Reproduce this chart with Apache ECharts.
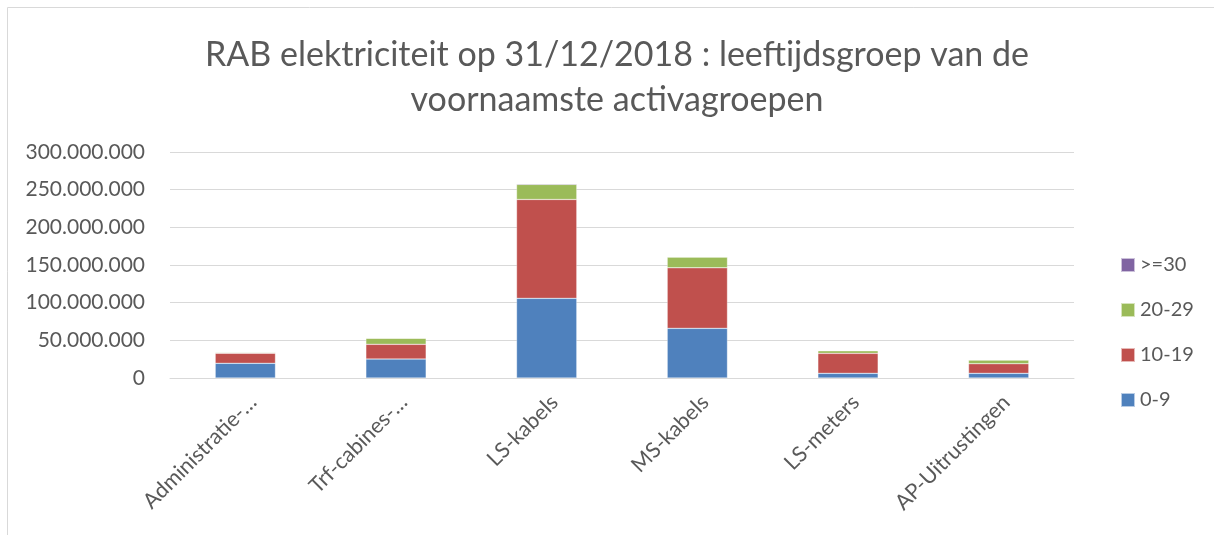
<!DOCTYPE html>
<html>
<head>
<meta charset="utf-8">
<script src="https://cdn.jsdelivr.net/npm/echarts@6/dist/echarts.min.js"></script>
<style>
    html, body { margin: 0; padding: 0; background: #fff; }
    #main { width: 1214px; height: 535px; }
</style>
</head>
<body>
<div id="main"></div>
<script>
var categories = ['Administratie-…', 'Trf-cabines-…', 'LS-kabels', 'MS-kabels', 'LS-meters', 'AP-Uitrustingen'];
var groups = ['0-9', '10-19', '20-29', '>=30'];
var age0to9 = [19500000, 25200000, 105700000, 65900000, 6200000, 6200000];
var age10to19 = [13300000, 19500000, 131300000, 80400000, 26500000, 12800000];
var age20to29 = [1200000, 8000000, 20000000, 14200000, 3500000, 4900000];
var age30plus = [300000, 200000, 1000000, 200000, 200000, 200000];
var colors = ['#4F81BD', '#C0504D', '#9BBB59', '#8064A2'];

var myChart;
window.onload = function () {
    myChart = echarts.init(document.getElementById('main'));
    drawBar();
};

// 300000000 -> 300.000.000
function fmt(v) {
    return String(v).replace(/\B(?=(\d{3})+(?!\d))/g, '.');
}

function makeSeries(name, data) {
    return {
        name: name,
        type: 'bar',
        stack: 'total',
        barWidth: '40%',
        itemStyle: {
            borderColor: 'rgba(255,255,255,0.6)',
            borderWidth: 0.5
        },
        data: data
    };
}

function drawBar() {
    var font = 'Lato';
    var option = {
        color: colors,
        animation: false,
        title: {
            text: 'RAB elektriciteit op 31/12/2018 : leeftijdsgroep van de\nvoornaamste activagroepen',
            left: 612,
            textAlign: 'center',
            top: 28,
            textStyle: {
                fontFamily: font,
                fontSize: 34,
                fontWeight: 'normal',
                color: '#595959',
                lineHeight: 45
            }
        },
        graphic: [{
            type: 'polyline',
            shape: { points: [[7.5, 540], [7.5, 7.5], [1220, 7.5]] },
            style: { stroke: '#d9d9d9', lineWidth: 1, fill: null }
        }],
        legend: {
            orient: 'vertical',
            left: 1115,
            top: 250,
            itemWidth: 14,
            itemHeight: 14,
            itemGap: 25,
            icon: 'rect',
            data: groups.slice().reverse(),
            textStyle: {
                fontFamily: font,
                fontSize: 20,
                color: '#595959'
            }
        },
        grid: {
            left: 170,
            right: 140,
            top: 152,
            bottom: 157,
            containLabel: false
        },
        xAxis: {
            type: 'category',
            data: categories,
            axisLine: { lineStyle: { color: '#d9d9d9', width: 1 } },
            axisTick: { show: false },
            axisLabel: {
                rotate: 45,
                interval: 0,
                margin: 13,
                verticalAlign: 'top',
                fontFamily: font,
                fontSize: 21.5,
                color: '#595959'
            }
        },
        yAxis: {
            type: 'value',
            min: 0,
            max: 300000000,
            interval: 50000000,
            axisLine: { show: false },
            axisTick: { show: false },
            splitLine: { lineStyle: { color: '#d9d9d9', width: 1 } },
            axisLabel: {
                margin: 25,
                fontFamily: font,
                fontSize: 21,
                color: '#595959',
                formatter: fmt
            }
        },
        series: [
            makeSeries(groups[0], age0to9),
            makeSeries(groups[1], age10to19),
            makeSeries(groups[2], age20to29),
            makeSeries(groups[3], age30plus)
        ]
    };

    myChart.setOption(option);
}
</script>
</body>
</html>
